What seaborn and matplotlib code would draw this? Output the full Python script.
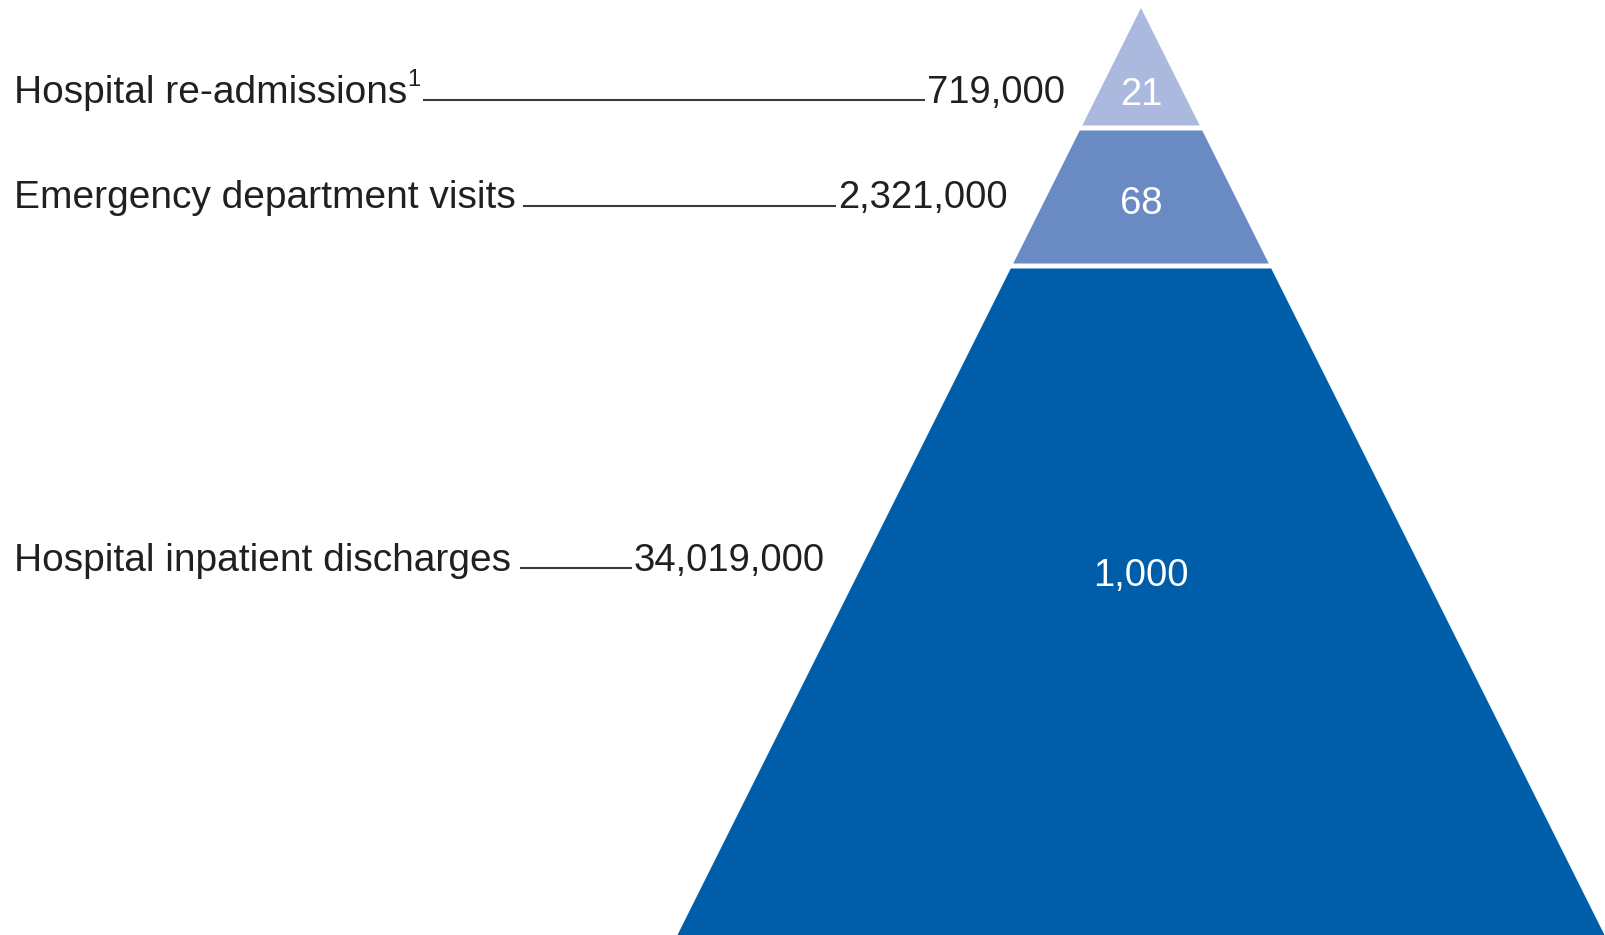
import matplotlib
matplotlib.use("Agg")
import matplotlib.pyplot as plt
import seaborn as sns

# Tier data, top of pyramid first
categories = ["Hospital re-admissions", "Emergency department visits", "Hospital inpatient discharges"]
counts = ["719,000", "2,321,000", "34,019,000"]
ratios = [21, 68, 1000]
footnote_marks = ["1", "", ""]

sns.set_theme(style="white")
plt.rcParams["font.family"] = ["Liberation Sans", "DejaVu Sans"]

tier_colors = ["#AAB9DD", "#6A8AC3", "#005DAA"]
text_color = "#231F20"
line_color = "#3A3A3A"

W, H = 1606, 935
fig = plt.figure(figsize=(W / 100, H / 100), dpi=100)
ax = fig.add_axes([0, 0, 1, 1])
ax.set_xlim(0, W)
ax.set_ylim(H, 0)
ax.axis("off")

# Pyramid geometry (canvas units)
apex_x, apex_y = 1141, 8
half_slope = 0.50
base_y = 960
tier_bounds = [apex_y, 128, 266, base_y]
gap = 2.5

def half_width(y):
    return (y - apex_y) * half_slope

for i, ratio in enumerate(ratios):
    y0 = tier_bounds[i] + (gap if i > 0 else 0)
    y1 = tier_bounds[i + 1] - (gap if i < len(ratios) - 1 else 0)
    w0, w1 = half_width(y0), half_width(y1)
    xs = [apex_x - w0, apex_x + w0, apex_x + w1, apex_x - w1]
    ys = [y0, y0, y1, y1]
    ax.fill(xs, ys, color=tier_colors[i], lw=0)

# Numbers inside the tiers
label_y = [95, 204, 576]
for ratio, ly in zip(ratios, label_y):
    ax.text(apex_x, ly, f"{ratio:,}", color="white", fontsize=27.5,
            ha="center", va="center")

# Category labels with leader lines to the counts
row_y = [93, 198, 561]
line_y = [100, 206, 568]
line_x0 = [423, 523, 520]
line_x1 = [925, 836, 632]
label_fs = 28.0
count_fs = 27.5
for i, cat in enumerate(categories):
    ax.text(14, row_y[i], cat, color=text_color, fontsize=label_fs, ha="left", va="center")
    ax.plot([line_x0[i], line_x1[i]], [line_y[i], line_y[i]], color=line_color, lw=1.5,
            solid_capstyle="butt")
    ax.text(line_x1[i] + 2, row_y[i], counts[i], color=text_color, fontsize=count_fs,
            ha="left", va="center")
    if footnote_marks[i]:
        ax.text(line_x0[i] - 3, row_y[i] - 13, footnote_marks[i], color=text_color,
                fontsize=17, ha="right", va="center")

fig.savefig("out.png", dpi=100, facecolor="white")
